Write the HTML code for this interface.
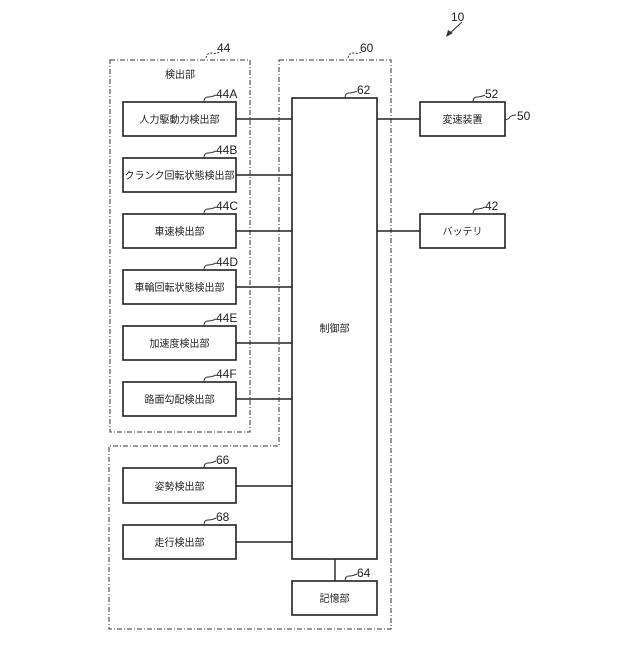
<!DOCTYPE html>
<html><head><meta charset="utf-8"><style>body{margin:0;background:#fff}</style></head><body>
<svg width="640" height="640" viewBox="0 0 640 640" xmlns="http://www.w3.org/2000/svg" font-family="Liberation Sans, Noto Sans CJK JP, sans-serif">
<rect width="640" height="640" fill="#fff"/>
<g fill="none" stroke="#333" stroke-width="1" stroke-dasharray="5,2,1,2">
<rect x="110" y="60" width="140" height="372"/>
<path d="M279 60 H391 V629 H109 V446 H279 Z"/>
</g>
<g fill="#fff" stroke="#222" stroke-width="1.6">
<rect x="123" y="102" width="113" height="34"/>
<rect x="123" y="158" width="113" height="34"/>
<rect x="123" y="214" width="113" height="34"/>
<rect x="123" y="270" width="113" height="34"/>
<rect x="123" y="326" width="113" height="34"/>
<rect x="123" y="382" width="113" height="34"/>
<rect x="123" y="468" width="113" height="35"/>
<rect x="123" y="525" width="113" height="34"/>
<rect x="292" y="98" width="85" height="461"/>
<rect x="292" y="581" width="85" height="34"/>
<rect x="420" y="102" width="85" height="34"/>
<rect x="420" y="214" width="85" height="34"/>
</g>
<g stroke="#222" stroke-width="1.4">
<line x1="236" y1="119" x2="292" y2="119"/>
<line x1="236" y1="175" x2="292" y2="175"/>
<line x1="236" y1="231" x2="292" y2="231"/>
<line x1="236" y1="287" x2="292" y2="287"/>
<line x1="236" y1="343" x2="292" y2="343"/>
<line x1="236" y1="399" x2="292" y2="399"/>
<line x1="236" y1="486" x2="292" y2="486"/>
<line x1="236" y1="542" x2="292" y2="542"/>
<line x1="377" y1="119" x2="420" y2="119"/>
<line x1="377" y1="231" x2="420" y2="231"/>
<line x1="335" y1="559" x2="335" y2="581"/>
</g>
<g fill="none" stroke="#333" stroke-width="1">
<path d="M206 58 q1-5 5-5 q5 1 9-1" stroke-dasharray="2,1.5"/>
<path d="M348 58 q1-5 5-5 q5 1 9-1" stroke-dasharray="2,1.5"/>
<path d="M204 102 q0-5 4-5 q4 0 8-2"/>
<path d="M204 158 q0-5 4-5 q4 0 8-2"/>
<path d="M204 214 q0-5 4-5 q4 0 8-2"/>
<path d="M204 270 q0-5 4-5 q4 0 8-2"/>
<path d="M204 326 q0-5 4-5 q4 0 8-2"/>
<path d="M204 382 q0-5 4-5 q4 0 8-2"/>
<path d="M204 468 q0-5 4-5 q4 0 8-2"/>
<path d="M204 525 q0-5 4-5 q4 0 8-2"/>
<path d="M345 98 q0-5 4-5 q4 0 8-2"/>
<path d="M345 581 q0-5 4-5 q4 0 8-2"/>
<path d="M473 102 q0-5 4-5 q4 0 8-2"/>
<path d="M473 214 q0-5 4-5 q4 0 8-2"/>
<path d="M505 120 q4-1 5-3 q2-2 6-2"/>
<line x1="448" y1="35" x2="462" y2="22"/>
</g>
<polygon points="446,37 448,30 453,33" fill="#333"/>
<g font-size="12" fill="#222">
<text x="217" y="52">44</text>
<text x="360" y="52">60</text>
<text x="216" y="98">44A</text>
<text x="216" y="154">44B</text>
<text x="216" y="210">44C</text>
<text x="216" y="266">44D</text>
<text x="216" y="322">44E</text>
<text x="216" y="378">44F</text>
<text x="216" y="464">66</text>
<text x="216" y="521">68</text>
<text x="357" y="94">62</text>
<text x="357" y="577">64</text>
<text x="485" y="98">52</text>
<text x="485" y="210">42</text>
<text x="517" y="120">50</text>
<text x="451" y="21">10</text>
</g>
<g font-size="10" fill="#222" text-anchor="middle">
<text x="180" y="78">検出部</text>
<text x="179.5" y="123">人力駆動力検出部</text>
<text x="179.5" y="179">クランク回転状態検出部</text>
<text x="179.5" y="235">車速検出部</text>
<text x="179.5" y="291">車輪回転状態検出部</text>
<text x="179.5" y="347">加速度検出部</text>
<text x="179.5" y="403">路面勾配検出部</text>
<text x="179.5" y="490">姿勢検出部</text>
<text x="179.5" y="546">走行検出部</text>
<text x="334.5" y="332">制御部</text>
<text x="334.5" y="602">記憶部</text>
<text x="462.5" y="123">変速装置</text>
<text x="462.5" y="235">バッテリ</text>
</g>
</svg>
</body></html>
